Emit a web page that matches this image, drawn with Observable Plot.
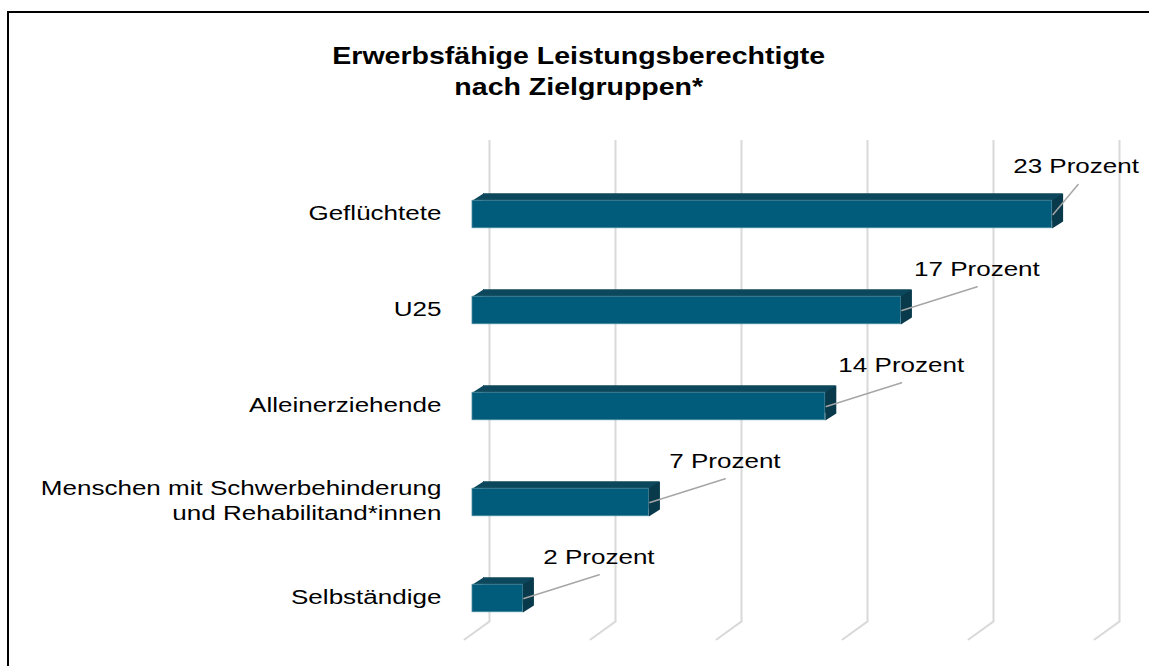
<!DOCTYPE html>
<html><head><meta charset="utf-8">
<script src="https://cdn.jsdelivr.net/npm/d3@7"></script>
<script src="https://cdn.jsdelivr.net/npm/@observablehq/plot@0.6"></script>
<style>
html,body{margin:0;padding:0;background:#fff;overflow:hidden;}
#page{position:relative;width:1149px;height:666px;font-family:"Liberation Sans",Arial,sans-serif;}
#title{position:absolute;left:4px;top:0;width:1149px;height:120px;box-sizing:border-box;padding-top:41px;text-align:center;}
#title span{display:inline-block;font-weight:bold;font-size:23px;line-height:31px;transform:scaleX(1.24);transform-origin:50% 50%;color:#000;}
#chart{position:absolute;left:0;top:120px;}
#border{position:absolute;left:7px;top:11px;width:3000px;height:3000px;border-left:2px solid #000;border-top:2px solid #000;pointer-events:none;}
</style></head>
<body><div id="page">
<div id="title"><span>Erwerbsfähige Leistungsberechtigte<br>nach Zielgruppen*</span></div>
<div id="chart"></div>
<div id="border"></div>
</div>
<script>
const categories = ["Geflüchtete", "U25", "Alleinerziehende", "Menschen mit Schwerbehinderung\nund Rehabilitand*innen", "Selbständige"];
const values = [23, 17, 14, 7, 2];
const valueLabels = ["23 Prozent", "17 Prozent", "14 Prozent", "7 Prozent", "2 Prozent"];
const gridTicks = [0, 5, 10, 15, 20, 25];

const data = categories.map((cat, i) => ({cat, value: values[i], label: valueLabels[i]}));

const frontColor = "#015b7a";
const topColor = "#0c475b";
const sideColor = "#093a4b";
const gridColor = "#d9d9d9";

const lineShape = {draw(ctx, l) { ctx.moveTo(0, 0); ctx.lineTo(0, -l); }};
const sideShape = {draw(ctx) { ctx.moveTo(0, -14); ctx.lineTo(11, -21); ctx.lineTo(11, 7); ctx.lineTo(0, 14); ctx.closePath(); }};
const cornerShape = {draw(ctx) { ctx.moveTo(0, -14); ctx.lineTo(11, -21); ctx.lineTo(11, -14); ctx.closePath(); }};

const chart = Plot.plot({
  width: 1149,
  height: 546,
  marginLeft: 472,
  marginRight: 47,
  marginTop: 20,
  marginBottom: 27,
  style: {fontFamily: "'Liberation Sans', Arial, sans-serif", fontSize: "21px", background: "transparent", color: "#000"},
  x: {domain: [0, 25], axis: null},
  y: {domain: categories, range: [44.75, 527.25], padding: 0, label: null},
  marks: [
    Plot.ruleX(gridTicks, {x: d => d, dx: 17, insetBottom: 18, stroke: gridColor, strokeWidth: 2}),
    Plot.vector(gridTicks, {x: d => d, frameAnchor: "bottom", dx: -8, length: 31, rotate: 54.2, anchor: "start", shape: lineShape, stroke: gridColor, strokeWidth: 2}),
    Plot.barX(data, {x: "value", y: "cat", dx: 11, dy: -7, insetTop: 34.25, insetBottom: 34.25, fill: topColor}),
    Plot.vector(data, {x: 0, y: "cat", length: 1, rotate: 0, anchor: "start", shape: cornerShape, fill: topColor, stroke: "none"}),
    Plot.barX(data, {x: "value", y: "cat", insetTop: 34.25, insetBottom: 34.25, fill: frontColor, stroke: "#4d8aa0", strokeWidth: 0.8}),
    Plot.vector(data, {x: "value", y: "cat", length: 1, rotate: 0, anchor: "start", shape: sideShape, fill: sideColor, stroke: "none"}),
    Plot.vector(data, {filter: d => d.value <= 20, x: "value", y: "cat", dx: 1, length: 79, rotate: 72.5, anchor: "start", shape: lineShape, stroke: "#a6a6a6", strokeWidth: 1.5}),
    Plot.vector(data, {filter: d => d.value > 20, x: "value", y: "cat", dx: 1, length: 39, rotate: 39.8, anchor: "start", shape: lineShape, stroke: "#a6a6a6", strokeWidth: 1.5}),
    Plot.text(data, {filter: d => d.value <= 20, x: "value", y: "cat", text: "label", dx: 76, dy: -41, fontSize: 21, fill: "#000"}),
    Plot.text(data, {filter: d => d.value > 20, x: "value", y: "cat", text: "label", dx: 24, dy: -48, fontSize: 21, fill: "#000"}),
    Plot.axisY({tickSize: 0, tickPadding: 31, fontSize: 21, lineHeight: 1.2, dy: -3, fill: "#000"})
  ]
});

document.getElementById("chart").appendChild(chart);

// horizontal stretch of text to match the reference's wide glyphs
chart.querySelectorAll("text").forEach(t => {
  let tr = t.getAttribute("transform") || "";
  const x = t.getAttribute("x");
  if (x !== null && isFinite(+x)) {
    tr += ` translate(${+x},0)`;
    t.removeAttribute("x");
  }
  t.setAttribute("transform", tr + " scale(1.24,1)");
});
</script>
</body></html>
